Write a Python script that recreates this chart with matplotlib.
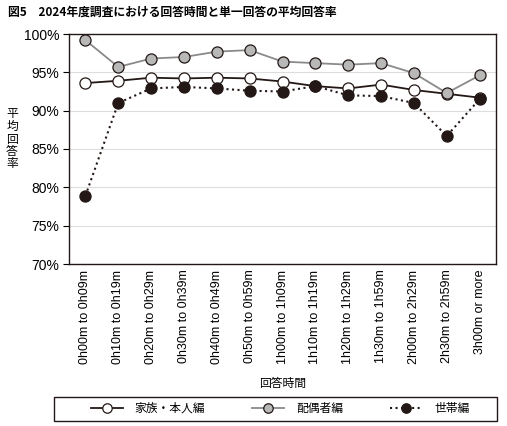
import numpy as np
import matplotlib.pyplot as plt

plt.rcParams['font.family'] = ['Noto Sans CJK JP', 'DejaVu Sans']

categories = ['0h00m to 0h09m', '0h10m to 0h19m', '0h20m to 0h29m', '0h30m to 0h39m',
              '0h40m to 0h49m', '0h50m to 0h59m', '1h00m to 1h09m', '1h10m to 1h19m',
              '1h20m to 1h29m', '1h30m to 1h59m', '2h00m to 2h29m', '2h30m to 2h59m',
              '3h00m or more']
kazoku = [93.6, 93.9, 94.3, 94.2, 94.3, 94.2, 93.8, 93.2, 92.9, 93.4, 92.7, 92.2, 91.7]
haiguusha = [99.2, 95.7, 96.8, 97.0, 97.7, 97.9, 96.4, 96.2, 96.0, 96.2, 94.9, 92.3, 94.6]
setai = [78.9, 91.0, 92.9, 93.1, 92.9, 92.6, 92.5, 93.2, 92.0, 91.9, 91.0, 86.7, 91.5]
yticks = [70, 75, 80, 85, 90, 95, 100]

black = '#231815'
fig = plt.figure(figsize=(5.07, 4.26), dpi=100)
ax = fig.add_axes([69/507, 1 - 264/426, (496-69)/507, (264-34)/426])

x = np.arange(len(categories))
ax.plot(x, kazoku, '-', color=black, lw=1.3, marker='o', ms=8,
        mfc='white', mec=black, mew=0.9, label='家族・本人編', zorder=3)
ax.plot(x, haiguusha, '-', color='#8a8a8a', lw=1.3, marker='o', ms=8,
        mfc='#b8b8b8', mec=black, mew=0.9, label='配偶者編', zorder=4)
ax.plot(x, setai, ':', color=black, lw=1.5, marker='o', ms=8,
        mfc=black, mec=black, mew=0.9, label='世帯編', zorder=5)

ax.set_xlim(-0.5, len(categories) - 0.5)
ax.set_ylim(70, 100)
ax.set_yticks(yticks)
ax.set_yticklabels([f'{v}%' for v in yticks], fontsize=10, family='Liberation Sans')
ax.set_xticks(x)
ax.set_xticklabels(categories, rotation=90, fontsize=9, family='Liberation Sans')
ax.tick_params(axis='x', length=0, pad=4)
ax.tick_params(axis='y', length=4, width=0.8, pad=3)
ax.grid(axis='y', color='#dddddd', lw=0.8)
ax.set_axisbelow(True)
for s in ax.spines.values():
    s.set_color(black)
    s.set_linewidth(1.0)

fig.text(8/507, 1 - 12/426, '図5　2024年度調査における回答時間と単一回答の平均回答率',
         fontsize=8.5, fontweight='bold', va='center', ha='left')
for i, ch in enumerate('平均回答率'):
    fig.text(12/507, 1 - (114 + i*12.5)/426, ch, fontsize=8.5, ha='center', va='center')
fig.text((69+496)/2/507, 1 - 383/426, '回答時間', fontsize=8.5, ha='center', va='center')

leg = fig.legend(loc='center', ncol=3, mode='expand',
                 bbox_to_anchor=(80/507, 1 - 421/426, (480-80)/507, 25/426),
                 fontsize=8.5, frameon=False, handlelength=2.7,
                 handletextpad=1.0, borderpad=0.4, markerscale=0.85)
box = plt.Rectangle((54/507, 1 - 421/426), (497-54)/507, 24/426, transform=fig.transFigure,
                    fill=False, ec=black, lw=1.0)
fig.add_artist(box)

fig.savefig('out.png', dpi=100)
